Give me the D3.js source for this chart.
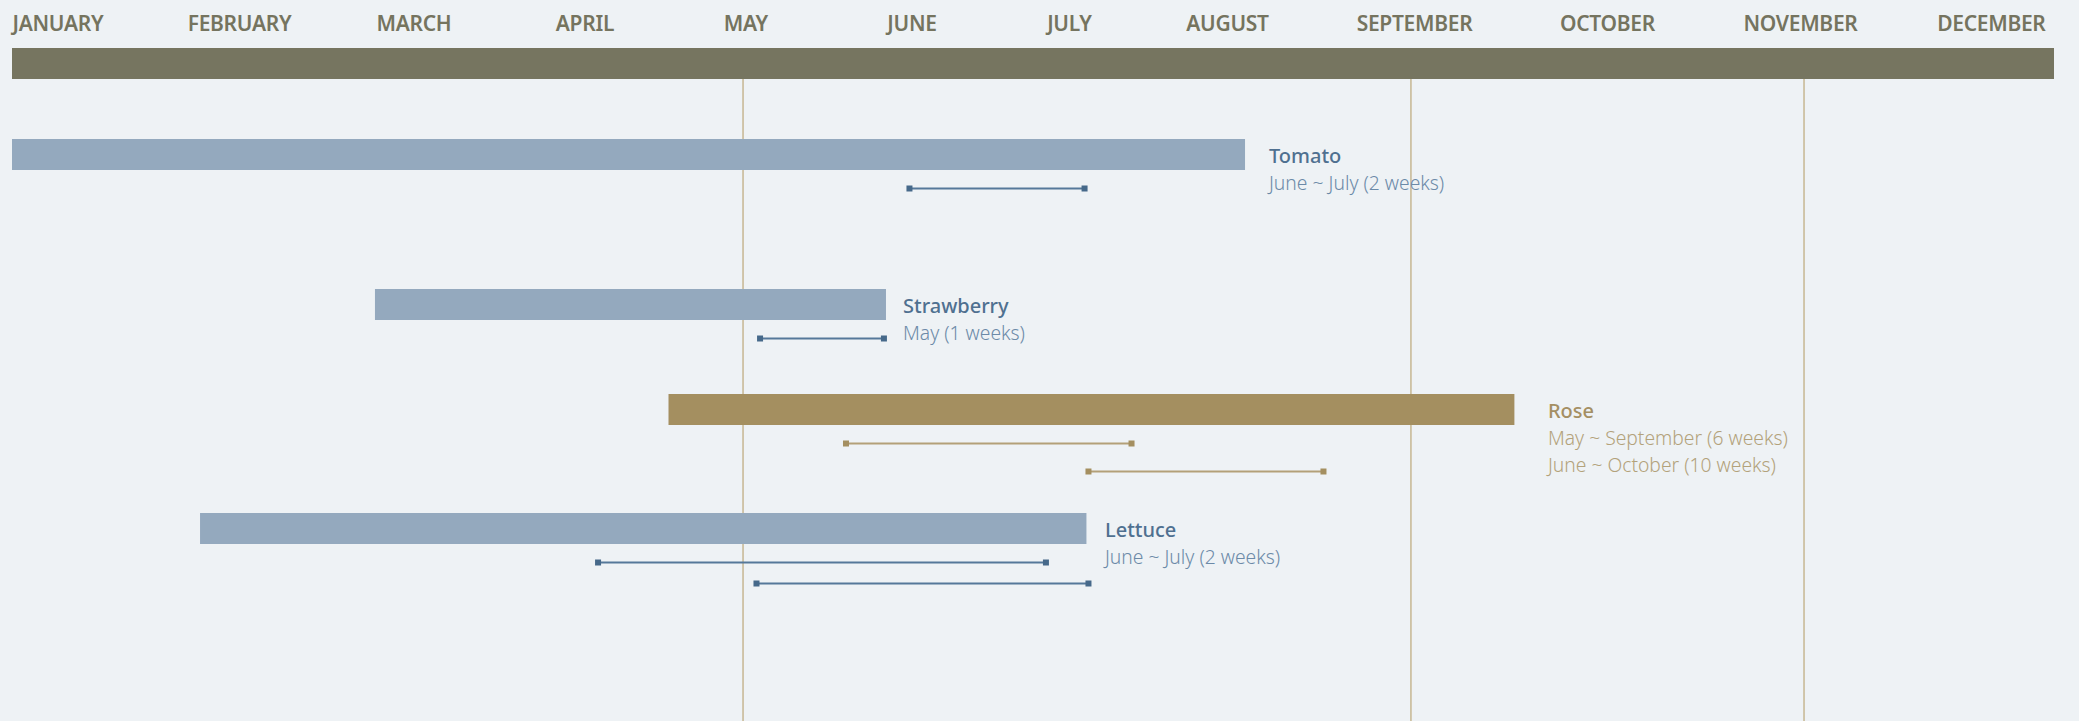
<!DOCTYPE html>
<meta charset="utf-8">

<!-- Load d3.js -->
<script src="https://d3js.org/d3.v7.min.js"></script>

<style>
  body { margin: 0; background: #eef2f5; }
  svg { display: block; font-family: "Noto Sans", sans-serif; }
</style>

<body>

<div id="season"></div>

<script>

  // months along the top, and where each label sits (in month units)
  const months = ["JANUARY", "FEBRUARY", "MARCH", "APRIL", "MAY", "JUNE",
                  "JULY", "AUGUST", "SEPTEMBER", "OCTOBER", "NOVEMBER", "DECEMBER"];
  const monthAt = [0.270, 1.337, 2.362, 3.367, 4.313, 5.289, 6.214, 7.143, 8.242, 9.376, 10.510, 11.632];
  const guideAt = [4.296, 8.221, 10.531];

  // one row per crop
  const crops = ["Tomato", "Strawberry", "Rose", "Lettuce"];
  const cropGroup = ["edible", "edible", "flower", "edible"];
  const seasonStart = [0, 2.133, 3.858, 1.105];
  const seasonEnd = [7.246, 5.136, 8.829, 6.314];
  const labelAt = [7.387, 5.236, 9.026, 6.423];
  const notes = [
    ["June ~ July (2 weeks)"],
    ["May (1 weeks)"],
    ["May ~ September (6 weeks)", "June ~ October (10 weeks)"],
    ["June ~ July (2 weeks)"]
  ];
  const rangeStart = [[5.274], [4.396], [4.901, 6.326], [3.444, 4.375]];
  const rangeEnd = [[6.303], [5.124], [6.579, 7.707], [6.076, 6.326]];

  // layout
  const width = 2079, height = 721;
  const headerTop = 48, barH = 31;
  const rowTop = [139, 289, 394, 513];
  const rangeGap = [28, 28, 28, 21];

  const x = d3.scaleLinear().domain([0, 12]).range([12, 2054]);

  const palette = {
    edible: {bar: "#94a9be", title: "#4f7090", note: "#6c8aa8", line: "#55789a", cap: "#46698a"},
    flower: {bar: "#a48f60", title: "#a48f63", note: "#b3a27b", line: "#b3a078", cap: "#a48f60"}
  };

  const svg = d3.select("#season")
    .append("svg")
      .attr("width", width)
      .attr("height", height);

  // month labels
  svg.append("g")
    .selectAll("text")
    .data(months)
    .join("text")
      .attr("x", (d, i) => x(monthAt[i]))
      .attr("y", 31)
      .attr("text-anchor", "middle")
      .style("font-size", "21px")
      .style("font-weight", 600)
      .style("letter-spacing", "-0.3px")
      .attr("fill", "#75745f")
      .text(d => d);

  // guide lines
  svg.append("g")
    .selectAll("line")
    .data(guideAt)
    .join("line")
      .attr("x1", d => x(d))
      .attr("x2", d => x(d))
      .attr("y1", headerTop + barH)
      .attr("y2", height)
      .attr("stroke", "#c6b792")
      .attr("stroke-width", 1.5);

  // header bar
  svg.append("rect")
    .attr("x", x(0))
    .attr("y", headerTop)
    .attr("width", x(12) - x(0))
    .attr("height", barH)
    .attr("fill", "#767560");

  const rows = svg.append("g")
    .selectAll("g")
    .data(crops)
    .join("g")
      .attr("transform", (d, i) => `translate(0,${rowTop[i]})`);

  rows.append("rect")
    .attr("x", (d, i) => x(seasonStart[i]))
    .attr("width", (d, i) => x(seasonEnd[i]) - x(seasonStart[i]))
    .attr("height", barH)
    .attr("fill", (d, i) => palette[cropGroup[i]].bar);

  rows.append("text")
    .attr("x", (d, i) => x(labelAt[i]))
    .attr("y", 24)
    .style("font-size", "20px")
    .style("font-weight", 500)
    .attr("fill", (d, i) => palette[cropGroup[i]].title)
    .text(d => d);

  rows.each(function(d, i) {
    const g = d3.select(this);
    const c = palette[cropGroup[i]];

    g.selectAll("text.note")
      .data(notes[i])
      .join("text")
        .attr("class", "note")
        .attr("x", x(labelAt[i]))
        .attr("y", (n, j) => 51 + j * 26.5)
        .style("font-size", "19.3px")
        .style("font-weight", 300)
        .attr("fill", c.note)
        .text(n => n);

    const spans = rangeStart[i].map((s, j) => ({s: s, e: rangeEnd[i][j], y: 49.5 + j * rangeGap[i]}));

    g.selectAll("line.range")
      .data(spans)
      .join("line")
        .attr("class", "range")
        .attr("x1", r => x(r.s))
        .attr("x2", r => x(r.e))
        .attr("y1", r => r.y)
        .attr("y2", r => r.y)
        .attr("stroke", c.line)
        .attr("stroke-width", 2);

    const caps = spans.flatMap(r => [{v: r.s, y: r.y}, {v: r.e, y: r.y}]);
    g.selectAll("rect.cap")
      .data(caps)
      .join("rect")
        .attr("class", "cap")
        .attr("x", p => x(p.v) - 3)
        .attr("y", p => p.y - 3)
        .attr("width", 6)
        .attr("height", 6)
        .attr("fill", c.cap);
  });

</script>
</body>
